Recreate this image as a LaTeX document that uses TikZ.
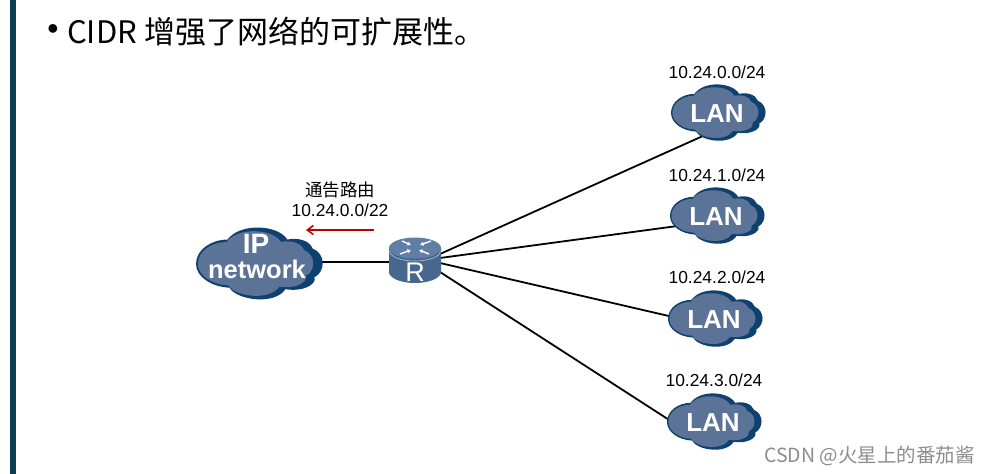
\documentclass[tikz,border=0pt]{standalone}
\usepackage{fontspec}
\setmainfont{Liberation Sans}
\newfontfamily\cjk{Noto Sans CJK SC}
\usetikzlibrary{arrows.meta,backgrounds}
\definecolor{barcol}{HTML}{0F3D52}
\definecolor{clouddark}{HTML}{0F4170}
\definecolor{cloudfill}{HTML}{5A7396}
\definecolor{routertop}{HTML}{5F7FA5}
\definecolor{routerbody}{HTML}{47678F}
\definecolor{advred}{HTML}{C00000}
\newcommand{\cloudoutline}{(-1,0)
 .. controls (-1,-0.35) and (-0.75,-0.62) .. (-0.47,-0.64)
 .. controls (-0.35,-0.98) and (0.25,-1.12) .. (0.42,-0.68)
 .. controls (0.7,-0.76) and (0.92,-0.55) .. (0.88,-0.36)
 .. controls (1.06,-0.2) and (1.06,0.28) .. (0.85,0.42)
 .. controls (0.8,0.65) and (0.6,0.72) .. (0.45,0.66)
 .. controls (0.3,1.07) and (-0.3,1.12) .. (-0.5,0.66)
 .. controls (-0.75,0.66) and (-1,0.4) .. (-1,0) -- cycle}
\newcommand{\drawcloud}[4]{%
 \fill[clouddark,shift={(#1,#2)},x=#3pt,y=#4pt] \cloudoutline;
 \fill[cloudfill,shift={(#1-0.06*#3,#2)},x=0.91*#3pt,y=0.9*#4pt] \cloudoutline;}
\tikzset{
 link/.style={draw=black,line width=1.8pt},
 lanlabel/.style={font=\fontsize{17.4}{19}\selectfont,text=black,inner sep=0pt},
 cloudtext/.style={text=white,inner sep=0pt},
}
\newcommand{\lancloud}[3]{%
 \drawcloud{#2}{#3}{47}{29}
 \node[cloudtext,font=\bfseries\fontsize{26}{26}\selectfont] (#1) at (#2-1,#3+.5) {LAN};}
\begin{document}
\begin{tikzpicture}[x=1pt,y=-1pt]
\useasboundingbox (0,0) rectangle (991,474);
\fill[barcol] (10,0) rectangle (15.5,474);
\node[inner sep=0pt,font=\fontsize{32}{32}\selectfont] (bullet) at (53,32) {•};
\node[anchor=west,inner sep=0pt,font=\cjk\fontsize{31}{33}\selectfont] (title) at (67,32) {CIDR 增强了网络的可扩展性。};

\drawcloud{259}{264}{63}{37}
\node[cloudtext,font=\bfseries\fontsize{28}{28}\selectfont] (ipa) at (256,244) {IP};
\node[cloudtext,font=\bfseries\fontsize{25.5}{26}\selectfont] (ipnet) at (257,269) {network};

% router
\fill[routerbody] (389,248) -- (389,272) arc[start angle=180,end angle=0,x radius=26,y radius=11] -- (441,248) -- cycle;
\fill[routertop] (415,248) ellipse[x radius=26,y radius=10.5];
\draw[white,opacity=.6,line width=.6pt] (389.5,251) arc[start angle=180,end angle=0,x radius=25.5,y radius=10];
\coordinate (router) at (415,261);
\node[inner sep=0pt,text=white,font=\fontsize{27}{27}\selectfont] (rlabel) at (415,272.5) {R};
\foreach \a/\b/\c/\d in {402/241/411/245, 431/241/420/245, 400/254/411/250, 429/254/419/250}
  \draw[white,line width=1.4pt,-{Latex[length=3.5pt,width=4.5pt]}] (\a,\b) -- (\c,\d);

\lancloud{lan1}{718}{113}
\lancloud{lan2}{717}{216}
\lancloud{lan3}{715}{319}
\lancloud{lan4}{714}{422}

\begin{scope}[on background layer]
\draw[link] ([shift={(50,-7)}]ipnet.center) -- ([shift={(-25,1)}]router);
\draw[link] ([shift={(25,-7)}]router) -- ([shift={(-13,22)}]lan1.center);
\draw[link] ([shift={(25,-3)}]router) -- ([shift={(-35,9)}]lan2.center);
\draw[link] ([shift={(25,2)}]router) -- ([shift={(-43,-3)}]lan3.center);
\draw[link] ([shift={(25,11)}]router) -- ([shift={(-43,-2)}]lan4.center);
\end{scope}

\node[lanlabel] (t1) at (717,72) {10.24.0.0/24};
\node[lanlabel] (t2) at (717,175) {10.24.1.0/24};
\node[lanlabel] (t3) at (717,277) {10.24.2.0/24};
\node[lanlabel] (t4) at (714,380) {10.24.3.0/24};

\node[inner sep=0pt,font=\cjk\fontsize{17.5}{19}\selectfont] (adv) at (340,190) {通告路由};
\node[lanlabel] (advnet) at (340,210) {10.24.0.0/22};
\coordinate (arrowstart) at (374,230);
\coordinate (arrowend) at (306,230);
\draw[advred,line width=1.6pt,-{Straight Barb[length=6pt,width=9pt]}] (arrowstart) -- (arrowend);

\node[anchor=east,inner sep=0pt,text=black!45,font=\cjk\fontsize{19.5}{21}\selectfont] (mark) at (975,456) {CSDN @火星上的番茄酱};
\end{tikzpicture}
\end{document}
